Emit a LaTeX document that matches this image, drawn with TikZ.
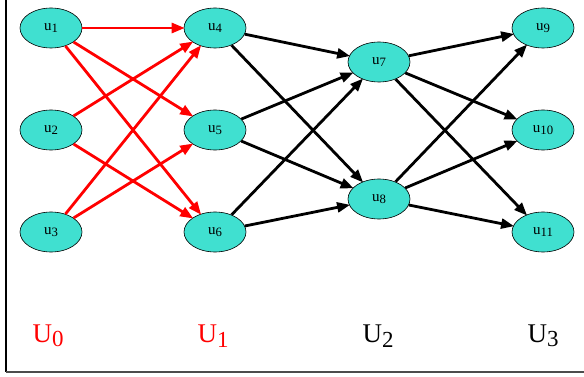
\documentclass[tikz,border=0pt]{standalone}
\usepackage{fontspec}
\setmainfont{Liberation Serif}
\usetikzlibrary{arrows.meta,shapes.geometric}
\definecolor{turq}{HTML}{40E0D0}
\newcommand\lo[1]{\raisebox{-0.35ex}{\scalebox{0.85}{#1}}}
\tikzset{
  vertex/.style={ellipse,draw=black,line width=0.6pt,fill=turq,
    minimum width=62pt,minimum height=40pt,inner sep=0pt,font=\fontsize{15}{15}\selectfont},
  layer/.style={font=\fontsize{27}{27}\selectfont},
  arc/.style={-{Triangle[length=13pt,width=10pt]},line width=2.8pt,shorten >=-1pt},
}
\begin{document}
\begin{tikzpicture}[x=1pt,y=-1pt]
      \useasboundingbox (0,0) rectangle (584,377);
      \draw[line width=1.2pt] (6,0) -- (6,372);
      \draw[line width=1.5pt,black!70] (6,372) -- (584,372);
      \draw
        (51,28) node[vertex] (1){u\lo{1}}
        (51,130) node[vertex] (2){u\lo{2}}
        (51,232) node[vertex] (3){u\lo{3}}
        (215,28) node[vertex] (4){u\lo{4}}
        (215,130) node[vertex] (5){u\lo{5}}
        (215,232) node[vertex] (6){u\lo{6}}
        (379,62) node[vertex] (7){u\lo{7}}
        (379,199) node[vertex] (8){u\lo{8}}
        (543,28) node[vertex] (9){u\lo{9}}
        (543,130) node[vertex] (10){u\lo{10}}
        (543,232) node[vertex] (11){u\lo{11}};
      \draw
        (48,336) node[layer,red] (U0){U\lo{0}}
        (213,336) node[layer,red] (U1){U\lo{1}}
        (378,336) node[layer] (U2){U\lo{2}}
        (543,336) node[layer] (U3){U\lo{3}};
      \begin{scope}[arc,red]
        \draw (1) to (4);
        \draw (1) to (5);
        \draw (1) to (6);
        \draw (2) to (4);
        \draw (2) to (6);
        \draw (3) to (4);
        \draw (3) to (5);
      \end{scope}
      \begin{scope}[arc]
        \draw (4) to (7);
        \draw (4) to (8);
        \draw (5) to (7);
        \draw (5) to (8);
        \draw (6) to (7);
        \draw (6) to (8);
        \draw (7) to (9);
        \draw (7) to (10);
        \draw (7) to (11);
        \draw (8) to (9);
        \draw (8) to (10);
        \draw (8) to (11);
      \end{scope}
    \end{tikzpicture}
\end{document}
